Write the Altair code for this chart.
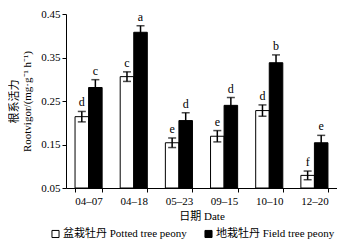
import altair as alt
import pandas as pd

dates = ["04–07", "04–18", "05–23", "09–15", "10–10", "12–20"]
groups = ["盆栽牡丹  Potted tree peony", "地栽牡丹  Field tree peony"]
potted = [0.214, 0.306, 0.154, 0.169, 0.228, 0.079]
potted_err = [0.012, 0.011, 0.011, 0.013, 0.013, 0.010]
potted_sig = ["d", "c", "e", "e", "d", "f"]
field = [0.281, 0.408, 0.205, 0.240, 0.338, 0.154]
field_err = [0.018, 0.015, 0.018, 0.018, 0.018, 0.017]
field_sig = ["c", "a", "d", "d", "b", "e"]

rows = []
for i, d in enumerate(dates):
    rows.append(dict(date=d, group=groups[0], v=potted[i], e=potted_err[i], sig=potted_sig[i]))
    rows.append(dict(date=d, group=groups[1], v=field[i], e=field_err[i], sig=field_sig[i]))
df = pd.DataFrame(rows)
df["lo"] = df["v"] - df["e"]
df["hi"] = df["v"] + df["e"]
df["base"] = 0.05

SERIF = "'Liberation Serif', 'Times New Roman', 'Noto Sans CJK SC', serif"

x = alt.X("date:N", sort=dates, title="日期 Date",
          scale=alt.Scale(paddingInner=0.4, paddingOuter=0.2),
          axis=alt.Axis(labelAngle=0, tickBand="extent", labelPadding=3,
                        titlePadding=4))
xo = alt.XOffset("group:N", sort=groups, scale=alt.Scale(paddingInner=0, paddingOuter=0))

base = alt.Chart(df)

bars = base.mark_bar(stroke="black", strokeWidth=1).encode(
    x=x,
    xOffset=xo,
    y=alt.Y("v:Q", title=["根系活力", "Rootvigor/(mg·g⁻¹ h⁻¹)"],
            scale=alt.Scale(domain=[0.05, 0.45], nice=False, zero=False),
            axis=alt.Axis(values=[0.05, 0.10, 0.15, 0.20, 0.25, 0.30, 0.35, 0.40, 0.45],
                          format=".2f", grid=False, titlePadding=8, labelOverlap=False,
                          labelFlush=False, labelPadding=2, titleLineHeight=13)),
    y2="base:Q",
    fill=alt.Fill("group:N", sort=groups,
                  scale=alt.Scale(domain=groups, range=["white", "black"]),
                  legend=alt.Legend(orient="none", legendX=-16, legendY=214,
                                    direction="horizontal", title=None, symbolType="square",
                                    symbolStrokeColor="black", symbolStrokeWidth=1,
                                    symbolSize=50, columnPadding=12, labelFontSize=11,
                                    labelFont=SERIF, padding=0, labelOffset=2)),
)

rules = base.mark_rule(color="black", strokeWidth=1.5).encode(
    x=x, xOffset=xo, y="lo:Q", y2="hi:Q")
caps_hi = base.mark_tick(color="black", thickness=1.5, size=8).encode(
    x=x, xOffset=xo, y="hi:Q")
caps_lo = base.mark_tick(color="black", thickness=1.5, size=8).encode(
    x=x, xOffset=xo, y="lo:Q")
letters = base.mark_text(baseline="bottom", dy=-2, fontSize=12, font=SERIF).encode(
    x=x, xOffset=xo, y="hi:Q", text="sig:N")

chart = alt.layer(bars, rules, caps_hi, caps_lo, letters).properties(
    width=271, height=174,
    padding={"left": 0, "top": 0, "right": 0, "bottom": 0}
).configure_view(stroke=None).configure_axis(
    labelFont=SERIF, titleFont=SERIF, labelFontSize=11, titleFontSize=11,
    titleFontWeight="normal", labelColor="black", titleColor="black",
    domainColor="black", domainWidth=1, tickColor="black", tickSize=4, tickWidth=1
)

chart.save("out.html", embed_options={"renderer": "svg", "actions": False})
